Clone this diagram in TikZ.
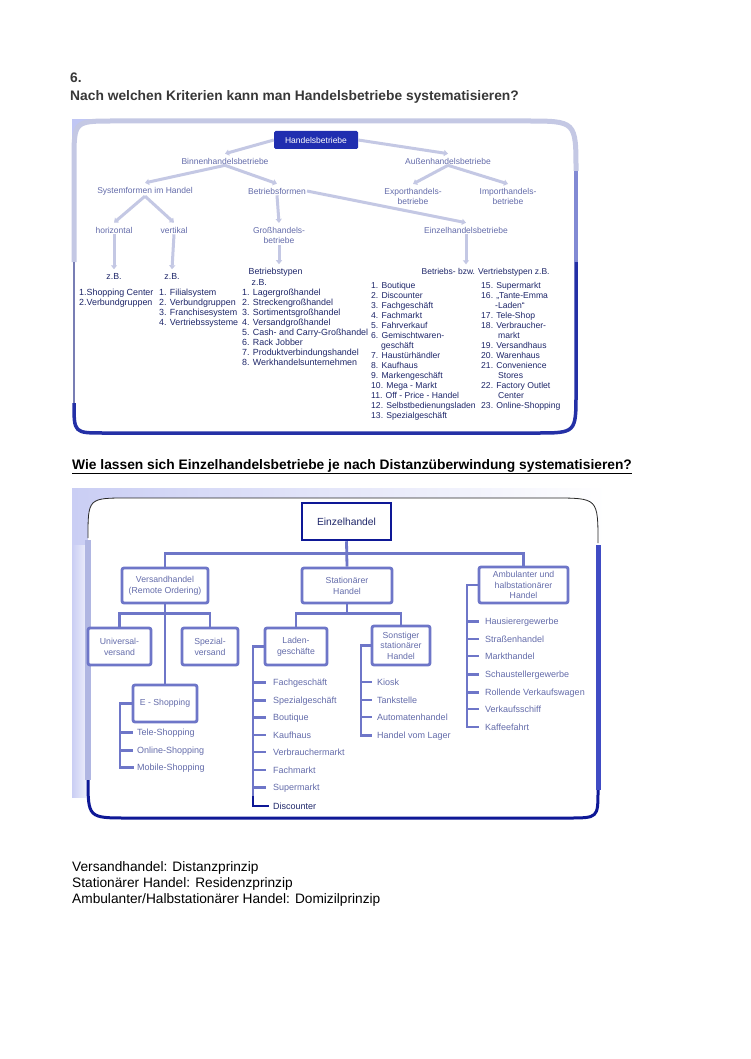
\documentclass[tikz,border=0pt]{standalone}
\usepackage{fontspec}
\setmainfont{Liberation Sans}
\usetikzlibrary{arrows.meta}
\definecolor{navy}{RGB}{30,38,105}
\definecolor{blurtxt}{RGB}{100,108,170}
\definecolor{lav}{RGB}{196,200,228}
\definecolor{boxblue}{RGB}{32,46,176}
\definecolor{frameblue}{RGB}{36,48,166}
\definecolor{midblue}{RGB}{130,138,212}
\definecolor{grayblue}{RGB}{120,126,180}
\definecolor{cornerfill}{RGB}{192,198,244}
\definecolor{ctwoline}{RGB}{110,118,200}
\definecolor{ctwodark}{RGB}{14,24,150}
\definecolor{ctwolav}{RGB}{202,206,244}
\definecolor{ctworight}{RGB}{64,76,196}
\definecolor{ctwoleft}{RGB}{176,182,226}
\begin{document}
\begin{tikzpicture}[x=1pt,y=-1pt,
  ttl/.style={anchor=base west,inner sep=0,font=\bfseries\fontsize{13.8}{16}\selectfont,text=black!78},
  hbox/.style={fill=boxblue,text=white,minimum width=84pt,minimum height=18pt,inner sep=0,rounded corners=1.5pt,font=\fontsize{8.5}{10}\selectfont},
  lbl/.style={inner sep=1pt,align=center,text=blurtxt,font=\fontsize{8.5}{10.5}\selectfont},
  txt/.style={inner sep=0.5pt,text=navy,font=\fontsize{8.8}{10}\selectfont},
  item/.style={anchor=base west,inner sep=0,text=navy,font=\fontsize{8.9}{10}\selectfont},
  linkA/.style={draw=lav,line width=3pt,-{Triangle[length=4pt,width=6pt]}},
  ebox/.style={draw=ctwodark,line width=2.5pt,fill=white,minimum width=89pt,minimum height=37pt,inner sep=0,text=navy,font=\fontsize{10.3}{12}\selectfont},
  cbox/.style={draw=ctwoline,line width=2.8pt,rounded corners=2pt,fill=white,inner sep=0,align=center,text=blurtxt,font=\fontsize{8.7}{11}\selectfont},
  clink/.style={draw=ctwoline,line width=2.8pt},
  citem/.style={anchor=base west,inner sep=0,text=blurtxt,font=\fontsize{9}{10}\selectfont},
  btxt/.style={anchor=base west,inner sep=0,text=black,font=\fontsize{13.7}{16}\selectfont}
]
\fill[white] (0,0) rectangle (750,1059);
\useasboundingbox (0,0) rectangle (750,1059);

% ---------- title ----------
\node[ttl] (t6) at (70,83) {6.};
\node[ttl] (t1) at (70,100.5) {Nach welchen Kriterien kann man Handelsbetriebe systematisieren?};

% ---------- chart 1 frame ----------
\fill[cornerfill] (72,119) rectangle (118,168);
\fill[white] (74,161) .. controls (74,121) .. (114,121) -- (526,121) .. controls (576,121) .. (576,171)
  -- (576,393) .. controls (576,433) .. (536,433) -- (104,433) .. controls (74,433) .. (74,403) -- cycle;
\draw[lav,line width=5pt] (74,262) -- (74,161) .. controls (74,121) .. (114,121) -- (526,121) .. controls (576,121) .. (576,171);
\draw[midblue,line width=4pt] (576,171) -- (576,262);
\draw[frameblue,line width=3.5pt] (576,262) -- (576,393) .. controls (576,433) .. (536,433) -- (104,433) .. controls (74,433) .. (74,403);
\draw[grayblue,line width=2.5pt] (74,403) -- (74,262);

% ---------- chart 1 nodes ----------
\node[hbox] (hb) at (316,140) {Handelsbetriebe};
\node[lbl] (binnen) at (225,161) {Binnenhandelsbetriebe};
\node[lbl] (aussen) at (448,161) {Außenhandelsbetriebe};
\node[lbl] (sysf) at (145,191) {Systemformen im Handel};
\node[lbl] (betf) at (277,191) {Betriebsformen};
\node[lbl] (exp) at (413,196.5) {Exporthandels-\\betriebe};
\node[lbl] (imp) at (508,196.5) {Importhandels-\\betriebe};
\node[lbl] (hor) at (114,230) {horizontal};
\node[lbl] (ver) at (174,230) {vertikal};
\node[lbl] (gross) at (279,235.5) {Großhandels-\\betriebe};
\node[lbl] (ezb) at (466,230) {Einzelhandelsbetriebe};

\node[txt] (zb1) at (114,276) {z.B.};
\node[txt] (zb2) at (172,276) {z.B.};
\node[txt,anchor=west] (btyp) at (248,272) {Betriebstypen};
\node[txt,anchor=west] (zb3) at (251,282) {z.B.};
\node[txt,anchor=west,font=\fontsize{8.5}{10}\selectfont] (bvtyp) at (421,272) {Betriebs- bzw. Vertriebstypen z.B.};

\draw[linkA] (hb.west) -- ([yshift=3pt]binnen.north);
\draw[linkA] (hb.east) -- ([yshift=3pt]aussen.north);
\draw[linkA] (binnen.south) -- ([yshift=3pt]sysf.north);
\draw[linkA] (binnen.south) -- ([yshift=3pt]betf.north);
\draw[linkA] (aussen.south) -- ([yshift=3pt]exp.north);
\draw[linkA] (aussen.south) -- ([yshift=3pt]imp.north);
\draw[linkA] (sysf.south) -- ([yshift=3pt]hor.north);
\draw[linkA] (sysf.south) -- ([yshift=3pt]ver.north);
\draw[linkA] (betf.south) -- ([yshift=3pt]gross.north);
\draw[linkA] (betf.east) -- ([yshift=3pt]ezb.north);
\draw[linkA] (hor.south) -- ([yshift=3pt]zb1.north);
\draw[linkA] (ver.south) -- ([yshift=3pt]zb2.north);
\draw[linkA] (gross.south) -- ([yshift=3pt]gross.south |- btyp.north);
\draw[linkA] (ezb.south) -- ([yshift=3pt]ezb.south |- bvtyp.north);

% lists chart 1
\foreach \i/\lbl in {0/{1.Shopping Center},1/{2.Verbundgruppen}}
  \node[item] (la\i) at (79,{295.5+10*\i}) {\lbl};
\foreach \i/\lbl in {0/{1. Filialsystem},1/{2. Verbundgruppen},2/{3. Franchisesystem},3/{4. Vertriebssysteme}}
  \node[item] (lb\i) at (159,{295.5+10*\i}) {\lbl};
\foreach \i/\lbl in {0/{1. Lagergroßhandel},1/{2. Streckengroßhandel},2/{3. Sortimentsgroßhandel},3/{4. Versandgroßhandel},4/{5. Cash- and Carry-Großhandel},5/{6. Rack Jobber},6/{7. Produktverbindungshandel},7/{8. Werkhandelsunternehmen}}
  \node[item] (lc\i) at (242,{295.5+10*\i}) {\lbl};
\foreach \i/\dx/\lbl in {0/0/{1. Boutique},1/0/{2. Discounter},2/0/{3. Fachgeschäft},3/0/{4. Fachmarkt},4/0/{5. Fahrverkauf},5/0/{6. Gemischtwaren-},6/10/{geschäft},7/0/{7. Haustürhändler},8/0/{8. Kaufhaus},9/0/{9. Markengeschäft},10/0/{10. Mega - Markt},11/0/{11. Off - Price - Handel},12/0/{12. Selbstbedienungsladen},13/0/{13. Spezialgeschäft}}
  \node[item,font=\fontsize{8.6}{10}\selectfont] (ld\i) at ({371+\dx},{288.5+10*\i}) {\lbl};
\foreach \i/\dx/\lbl in {0/0/{15. Supermarkt},1/0/{16. „Tante-Emma},2/14/{-Laden“},3/0/{17. Tele-Shop},4/0/{18. Verbraucher-},5/17/{markt},6/0/{19. Versandhaus},7/0/{20. Warenhaus},8/0/{21. Convenience},9/17/{Stores},10/0/{22. Factory Outlet},11/17/{Center},12/0/{23. Online-Shopping}}
  \node[item,font=\fontsize{8.6}{10}\selectfont] (le\i) at ({481+\dx},{288.5+10*\i}) {\lbl};

% ---------- heading 2 ----------
\node[ttl,text=black] (h2) at (72,469) {\underline{Wie lassen sich Einzelhandelsbetriebe je nach Distanzüberwindung systematisieren?}};

% ---------- chart 2 frame ----------
\shade[left color=ctwolav,right color=white] (72,488) rectangle (606,545);
\shade[left color=ctwolav,right color=white] (72,545) rectangle (94,797);
\fill[white] (88,538) .. controls (88,498) .. (128,498) -- (553,498) .. controls (598,498) .. (598,543)
  -- (598,788) .. controls (598,818) .. (568,818) -- (128,818) .. controls (88,818) .. (88,778) -- cycle;
\draw[black!85,line width=0.8pt] (88,538) .. controls (88,498) .. (128,498) -- (553,498) .. controls (598,498) .. (598,543);
\draw[ctworight,line width=5pt] (598,545) -- (598,790);
\draw[ctwodark,line width=3pt] (598,790) .. controls (598,818) .. (568,818) -- (128,818) .. controls (88,818) .. (88,778);
\draw[ctwoleft,line width=6pt] (88,780) -- (88,540);

% ---------- chart 2 nodes ----------
\node[ebox] (ez) at (346.5,521.5) {Einzelhandel};
\node[cbox,minimum width=86pt,minimum height=35pt] (vs) at (165,585.5) {Versandhandel\\(Remote Ordering)};
\node[cbox,minimum width=90pt,minimum height=35pt] (st) at (347,585.5) {Stationärer\\Handel};
\node[cbox,minimum width=89pt,minimum height=36pt,font=\fontsize{8.7}{10.5}\selectfont] (am) at (523.5,585) {Ambulanter und\\halbstationärer\\Handel};
\node[cbox,minimum width=63pt,minimum height=37pt] (un) at (119.5,646.5) {Universal-\\versand};
\node[cbox,minimum width=56pt,minimum height=37pt] (sp) at (210,646.5) {Spezial-\\versand};
\node[cbox,minimum width=62pt,minimum height=37pt] (ld) at (296,646.5) {Laden-\\geschäfte};
\node[cbox,minimum width=58pt,minimum height=39pt,font=\fontsize{8.7}{10.5}\selectfont] (so) at (401,645.5) {Sonstiger\\stationärer\\Handel};
\node[cbox,minimum width=64pt,minimum height=37pt] (es) at (165,703.5) {E - Shopping};

\draw[clink] (ez.south) -- (st.north);
\draw[clink] (vs.north) -- ++(0,-13) -| (am.north);
\draw[clink] (un.north) -- ++(0,-13) -| (sp.north);
\draw[clink] (vs.south) -- (es.north);
\draw[clink] (ld.north) -- ++(0,-13) -| (so.north);
\draw[clink] (st.south) -- ([yshift=13pt]st.south |- ld.north);

% item lists chart 2
\foreach \i/\yy/\lbl in {1/732/{Tele-Shopping},2/750/{Online-Shopping},3/767/{Mobile-Shopping}}
  \node[citem] (ei\i) at (137,\yy+3.2) {\lbl};
\foreach \i/\yy/\lbl in {1/682/{Fachgeschäft},2/700/{Spezialgeschäft},3/717/{Boutique},4/735/{Kaufhaus},5/752/{Verbrauchermarkt},6/770/{Fachmarkt},7/787/{Supermarkt}}
  \node[citem] (li\i) at (273,\yy+3.2) {\lbl};
\node[citem,text=navy] (disc) at (273,809.2) {Discounter};
\foreach \i/\yy/\lbl in {1/682/{Kiosk},2/700/{Tankstelle},3/717/{Automatenhandel},4/735/{Handel vom Lager}}
  \node[citem] (si\i) at (377,\yy+3.2) {\lbl};
\foreach \i/\yy/\lbl in {1/621/{Hausierergewerbe},2/639/{Straßenhandel},3/656/{Markthandel},4/674/{Schaustellergewerbe},5/692/{Rollende Verkaufswagen},6/709/{Verkaufsschiff},7/727/{Kaffeefahrt}}
  \node[citem] (ai\i) at (485,\yy+3.2) {\lbl};

\coordinate (eb) at (120,0);
\coordinate (lb) at (253,0);
\coordinate (sb) at (361,0);
\coordinate (ab) at (467,0);
\draw[clink] (es.west) -| (eb |- ei3.west) -- ([xshift=-3pt]ei3.west);
\foreach \i in {1,2} \draw[clink] (eb |- ei\i.west) -- ([xshift=-4pt]ei\i.west);
\draw[clink] (ld.west) -| (lb |- disc.west);
\foreach \i in {1,...,7} \draw[clink] (lb |- li\i.west) -- ([xshift=-7pt]li\i.west);
\draw[ctwodark,line width=2pt] ([yshift=10pt]lb |- disc.west) -- (lb |- disc.west) -- ([xshift=-4pt]disc.west);
\draw[clink] (so.west) -| (sb |- si4.west) -- ([xshift=-5pt]si4.west);
\foreach \i in {1,2,3} \draw[clink] (sb |- si\i.west) -- ([xshift=-5pt]si\i.west);
\draw[clink] (am.west) -| (ab |- ai7.west) -- ([xshift=-6pt]ai7.west);
\foreach \i in {1,...,6} \draw[clink] (ab |- ai\i.west) -- ([xshift=-6pt]ai\i.west);

% ---------- bottom text ----------
\node[btxt] (p1) at (72,871) {Versandhandel: Distanzprinzip};
\node[btxt] (p2) at (72,887) {Stationärer Handel: Residenzprinzip};
\node[btxt] (p3) at (72,903) {Ambulanter/Halbstationärer Handel: Domizilprinzip};
\end{tikzpicture}
\end{document}
